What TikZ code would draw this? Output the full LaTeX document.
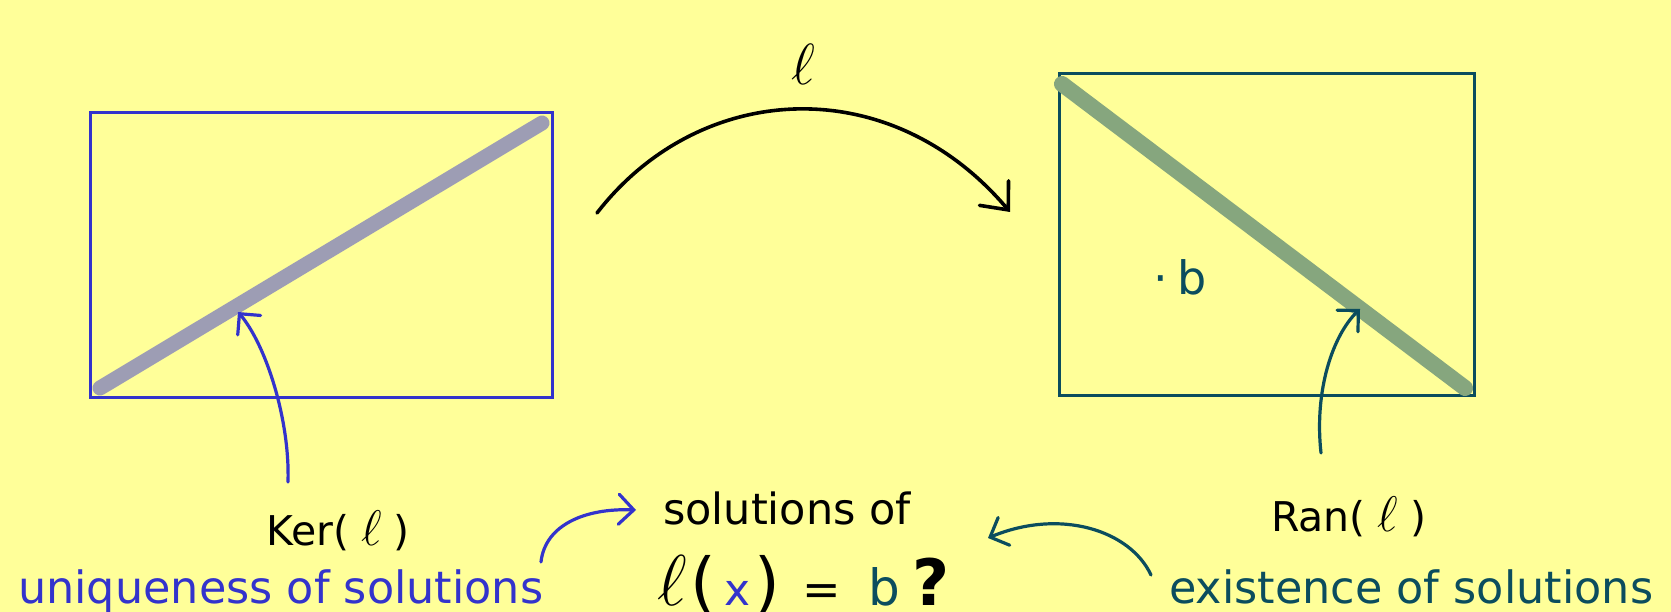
\RequirePackage{fix-cm}
\documentclass[tikz,border=0pt]{standalone}
\usepackage{fontspec}
\setmainfont{DejaVu Sans}
\usetikzlibrary{arrows.meta}
\definecolor{bg}{HTML}{FFFF99}
\definecolor{ublue}{HTML}{3333CC}
\definecolor{eteal}{HTML}{0B4D5E}
\definecolor{kerstripe}{HTML}{9D9DB4}
\definecolor{ranstripe}{HTML}{86A67E}
\newcommand{\fs}[1]{\fontsize{#1}{#1}\selectfont}
\tikzset{
  spacebox/.style={line width=3pt},
  stripe/.style={line width=15pt, line cap=round},
  pointer/.style={line width=3.2pt, line cap=round, -{Straight Barb[length=15pt,width=30pt,line cap=round]}},
  maparrow/.style={line width=3.6pt, line cap=round, -{Straight Barb[length=22pt,width=38pt,line cap=round]}},
  lbl/.style={inner sep=0pt, anchor=base west},
}
\begin{document}
\begin{tikzpicture}[x=1pt,y=-1pt]
\fill[bg] (0,0) rectangle (1671,612);
\useasboundingbox (0,0) rectangle (1671,612);

% left space (domain) with kernel stripe
\draw[stripe, kerstripe] (100,388) -- (542,123);
\node[draw=ublue, spacebox, inner sep=0pt, minimum width=462pt, minimum height=285pt, anchor=north west] (dom) at (89,111) {};

% right space (codomain) with range stripe
\node[draw=eteal, spacebox, inner sep=0pt, minimum width=415pt, minimum height=322pt, anchor=north west] (cod) at (1058,72) {};
\draw[stripe, ranstripe, line width=16pt] (1062,84) -- (1465,388);

% point b
\node[lbl, eteal] (bpt) at (1153,295) {\fs{46}·\kern10pt b};

% map arrow
\coordinate (arcS) at (597,213);
\coordinate (arcT) at (1010,212);
\draw[maparrow, black] (arcS) .. controls (700,80) and (890,70) .. (arcT);
\node[inner sep=0pt] (ell) at (803,64) {\fs{58}$\ell$};

% labels
\node[lbl] (ker) at (266,545) {\fs{41}Ker(\kern12pt{\fs{50}$\ell$}\kern12pt)};
\node[lbl] (ran) at (1271,531) {\fs{41}Ran(\kern12pt{\fs{50}$\ell$}\kern12pt)};
\node[lbl] (sol) at (663,524) {\fs{43}solutions of};
\node[lbl, ublue] (uniq) at (18,603) {\fs{44.5}uniqueness of solutions};
\node[lbl, eteal] (exist) at (1169,603) {\fs{44.5}existence of solutions};
\node[lbl] (eq) at (657,605) {\fs{72}$\ell$\kern4pt{\fs{66}(}\kern8pt{\fs{44}\color{ublue}x}\kern4pt{\fs{66})}\kern22pt{\fs{46}=}\kern28pt{\fs{50}\color{eteal}b}\kern12pt{\fs{64}\bfseries ?}};

% pointers
\coordinate (kerS) at (288,482);
\coordinate (kerT) at (238,312);
\draw[pointer, ublue] (kerS) .. controls (290,420) and (266,345) .. (kerT);

\coordinate (ranS) at (1321,453);
\coordinate (ranT) at (1360,309);
\draw[pointer, eteal] (ranS) .. controls (1314,390) and (1333,335) .. (ranT);

\coordinate (uniqS) at (541,562);
\coordinate (solT) at (636,510);
\draw[pointer, ublue] (uniqS) .. controls (545,525) and (585,508) .. (solT);

\coordinate (existS) at (1151,575);
\coordinate (eqT) at (988,538);
\draw[pointer, eteal] (existS) .. controls (1130,530) and (1060,508) .. (eqT);
\end{tikzpicture}
\end{document}
